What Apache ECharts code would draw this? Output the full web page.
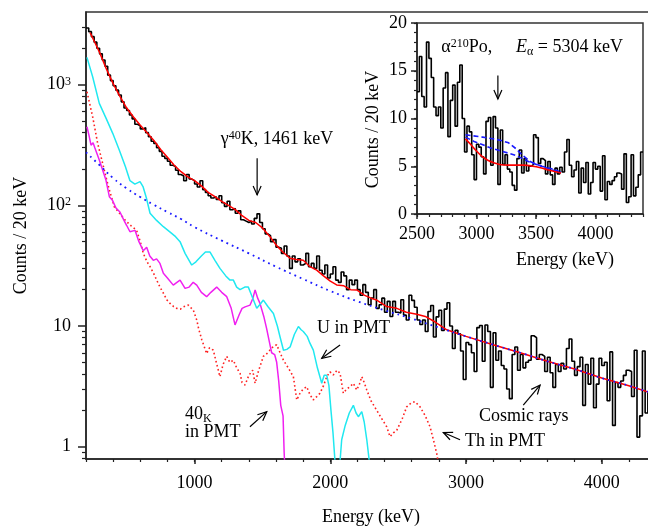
<!DOCTYPE html>
<html>
<head>
<meta charset="utf-8">
<script src="https://cdn.jsdelivr.net/npm/echarts@6/dist/echarts.min.js"></script>
<style>
  html, body { margin: 0; padding: 0; background: #fff; }
  #chart { width: 648px; height: 526px; }
</style>
</head>
<body>
<div id="chart"></div>
<script>
// measured spectrum, counts per 20 keV bin, bins start at 200 keV
var countsLow = [
  2950, 2750, 2500, 2250, 2000, 1800, 1600, 1420, 1200, 1080,
  980, 900, 820, 720, 640, 610, 560, 520, 470, 455,
  430, 440, 400, 370, 340, 325, 300, 280, 255, 245,
  232, 215, 210, 195, 180, 175, 160, 180, 165, 160,
  150, 142, 160, 135, 128, 120, 115, 118, 112, 120,
  105, 98, 108, 92, 94, 86, 90, 76, 74, 72,
  74, 70, 78, 85, 72, 64, 58, 56, 50, 52,
  45, 44, 40, 46, 38, 30, 38, 34, 36, 32,
  33, 40, 31, 33, 30, 38, 29, 27, 32, 25,
  27, 31, 24, 23, 28, 26, 20, 24, 22, 24,
  20, 18, 22, 19, 15, 17, 20, 14, 15, 17,
  13, 16, 12, 16, 13
];
// bins from 2500 keV to 4400 keV (also shown in the inset)
var countsHigh = [
  12.8, 16.5, 12.3, 11.2, 18.0, 16.3, 14.3, 11.2, 10.3, 11.2,
  9.0, 13.2, 14.8, 8.1, 11.9, 13.5, 9.2, 13.8, 15.6, 10.0,
  6.5, 9.2, 8.6, 6.2, 3.6, 7.3, 7.0, 6.0, 4.2, 9.7,
  10.1, 5.1, 10.2, 9.0, 3.1, 8.8, 5.2, 6.2, 4.7, 4.4,
  3.0, 2.5, 5.8, 6.7, 4.3, 5.8, 4.5, 5.0, 5.2, 8.3,
  8.0, 5.3, 5.8, 5.6, 4.2, 5.5, 4.1, 3.1, 4.8, 4.2,
  4.9, 4.4, 6.5, 7.8, 5.1, 3.9, 4.6, 5.5, 2.2, 4.8,
  3.3, 5.4, 2.1, 3.3, 5.4, 4.7, 5.0, 2.4, 6.1, 1.5,
  3.4, 3.1, 3.5, 3.9, 4.3, 4.2, 2.6, 6.3, 1.2, 1.8,
  6.2, 1.9, 2.8, 4.1, 6.5
];
var binWidth = 20;
var lowStart = 200;
var highStart = 2500;
var eMax = 4400;

// simulated components
var totalE = [230, 260, 300, 350, 400, 450, 500, 550, 600, 650, 700, 750, 800, 850, 900, 950,
  1000, 1050, 1100, 1150, 1200, 1250, 1300, 1350, 1400, 1450, 1500, 1556, 1600, 1650, 1703,
  1750, 1801, 1850, 1900, 1950, 2000, 2047, 2100, 2150, 2195, 2250, 2300, 2342, 2416, 2490,
  2560, 2637, 2700, 2760, 2858, 3000, 3200, 3400, 3600, 3800, 4000, 4200, 4400];
var totalCounts = [2700, 2300, 1850, 1350, 1020, 800, 640, 540, 460, 400, 345, 290, 250, 215, 190, 172,
  160, 145, 128, 118, 108, 100, 92, 82, 75, 72, 65, 55, 47, 41, 36.4,
  35.5, 35, 31, 29, 26, 23.5, 21.9, 21.5, 20, 19.9, 18, 17, 16.4, 14.5, 14,
  13, 12.5, 12, 11, 9.3, 8.2, 7.0, 6.0, 5.1, 4.4, 3.7, 3.2, 2.7];

var cosmicE = [200, 300, 400, 500, 600, 700, 800, 900, 1000, 1200, 1400, 1600, 1800, 2000,
  2200, 2400, 2600, 2800, 3000, 3200, 3400, 3600, 3800, 4000, 4200, 4400];
var cosmicCounts = [275, 215, 168, 138, 117, 101, 88, 77, 66, 51, 40, 31, 24.5, 19.5,
  16, 13.5, 11.5, 9.7, 8.2, 7.0, 6.0, 5.1, 4.4, 3.7, 3.2, 2.7];

var uE = [207, 249, 298, 350, 397, 445, 490, 524, 560, 598, 620, 645, 672, 720, 770, 820, 860, 893,
  930, 979, 1010, 1050, 1080, 1114, 1150, 1187, 1230, 1261, 1286, 1310, 1335, 1370, 1396, 1420,
  1458, 1480, 1507, 1540, 1581, 1610, 1630, 1655, 1680, 1704, 1735, 1765, 1785, 1801, 1830,
  1850, 1875, 1905, 1937, 1955, 1974, 1990, 2005, 2020, 2035, 2050, 2065, 2084, 2110, 2140,
  2170, 2190, 2207, 2232, 2250, 2269, 2285, 2300];
var uCounts = [1683, 1162, 700, 520, 395, 287, 210, 160, 150, 157, 143, 115, 86, 75, 66.5, 60, 55, 50,
  40, 32, 34, 38, 41, 41, 35, 30, 26, 24, 24, 21, 20, 21, 21, 18,
  14, 15, 16.4, 14.5, 12.7, 10, 8.1, 6.3, 6.4, 6.7, 8.5, 9.9, 9.3, 9.0, 8.2,
  7.2, 6.3, 4.5, 3.35, 3.9, 3.9, 3.2, 2.0, 1.3, 0.75, 0.5, 0.6, 1.14, 1.5, 1.9,
  2.2, 1.9, 1.77, 1.95, 1.6, 1.14, 0.8, 0.5];

var kE = [207, 222, 237, 252, 265, 298, 320, 347, 372, 395, 421, 450, 480, 500, 524, 561, 590, 622,
  647, 670, 696, 720, 745, 770, 800, 843, 870, 893, 930, 960, 990, 1016, 1050, 1089, 1120, 1163,
  1200, 1237, 1270, 1298, 1330, 1350, 1372, 1409, 1430, 1446, 1465, 1482, 1510, 1531, 1550,
  1568, 1590, 1605, 1620, 1635, 1645, 1652, 1660, 1670];
var kCounts = [448, 380, 315, 330, 300, 237, 200, 162, 118, 110, 95, 88, 75, 68, 60.4, 62, 50, 42,
  45, 38, 35, 36, 33, 27.3, 25, 21.8, 23, 24, 20.5, 21, 23, 21.8, 19, 17.5, 19, 21,
  19, 17.5, 14, 10.2, 12.5, 14, 14.4, 14.9, 17, 19.9, 17, 15.4, 12, 9.5, 7.5,
  6, 5.8, 5, 3.5, 2.2, 2.2, 1.8, 0.9, 0.5];

var thE = [207, 249, 286, 323, 347, 372, 409, 450, 490, 530, 573, 600, 622, 650, 672, 700, 721, 745,
  770, 795, 819, 845, 868, 895, 917, 954, 991, 1016, 1030, 1053, 1070, 1089, 1110, 1138, 1160,
  1187, 1210, 1237, 1260, 1286, 1310, 1335, 1350, 1372, 1400, 1428, 1446, 1470, 1507, 1540,
  1570, 1605, 1630, 1655, 1690, 1728, 1753, 1777, 1800, 1826, 1850, 1875, 1900, 1924, 1950,
  1974, 1998, 2022, 2050, 2072, 2096, 2120, 2145, 2170, 2195, 2215, 2232, 2250, 2269, 2300,
  2342, 2380, 2416, 2440, 2465, 2490, 2530, 2563, 2595, 2624, 2661, 2700, 2735, 2760, 2784, 2809];
var thCounts = [873, 542, 326, 222, 172, 134, 97, 85, 75, 68, 62, 50, 40, 34, 31, 27, 24, 21,
  18.7, 16.5, 15.4, 14.5, 14, 13.8, 14.4, 14.9, 13.5, 11.2, 9.5, 7.7, 6.8, 5.9, 6.6, 6.3, 5,
  3.8, 4.8, 5.6, 5.0, 5.2, 4.5, 4.06, 3.4, 3.24, 3.9, 4.3, 3.35, 4.2, 5.6, 6.0,
  6.6, 7.0, 6.0, 5.2, 4.5, 3.8, 2.44, 2.77, 3.0, 3.14, 2.7, 2.44, 2.6, 2.77, 3.2,
  3.8, 4.17, 3.93, 4.3, 4.06, 2.77, 3.0, 3.14, 3.35, 2.95, 3.3, 3.8, 3.4, 2.95, 2.4,
  2.0, 1.7, 1.46, 1.21, 1.3, 1.37, 1.7, 2.14, 2.3, 2.36, 2.14, 1.8, 1.46, 1.14, 0.88, 0.6];

// inset: 210Po alpha fits
var fitE = [2908, 2950, 3000, 3050, 3100, 3150, 3207, 3260, 3320, 3400, 3473, 3520, 3580, 3640, 3711];
var fitCounts = [7.87, 7.3, 6.6, 6.0, 5.6, 5.35, 5.16, 5.12, 5.12, 5.12, 5.0, 4.9, 4.7, 4.5, 4.3];
var dashAE = [2908, 3053, 3150, 3207, 3270, 3333, 3389, 3459, 3550, 3640, 3711];
var dashACounts = [8.29, 8.05, 7.85, 7.7, 7.45, 6.83, 6.13, 5.44, 5.0, 4.6, 4.35];
var dashBE = [2908, 2980, 3053, 3120, 3193, 3260, 3333, 3445, 3550, 3640, 3697];
var dashBCounts = [8.05, 7.6, 7.25, 6.9, 6.65, 6.4, 6.13, 5.44, 5.0, 4.7, 4.46];

// ticks
var xTicks = [1000, 2000, 3000, 4000];
var yTicks = [1, 10, 100, 1000];
var insetXTicks = [2500, 3000, 3500, 4000];
var insetYTicks = [0, 5, 10, 15, 20];

var FONT = "'Liberation Serif', 'Times New Roman', serif";
var L = function (v) { return Math.log10(v); };
var yMin = 0.79, yMax = 4000;

var histCounts = countsLow.concat(countsHigh);
function stepData(start, counts) {
  var d = counts.map(function (c, i) { return [start + binWidth * i, c]; });
  d.push([start + binWidth * counts.length, counts[counts.length - 1]]);
  return d;
}
function pairs(es, cs, f) {
  return es.map(function (e, i) { return [e, f ? f(cs[i]) : cs[i]]; });
}
var mainHist = stepData(lowStart, histCounts).map(function (p) { return [p[0], L(p[1])]; });
var insetHist = stepData(highStart, countsHigh);

var xMinor = [];
for (var e = lowStart; e <= eMax; e += 200) xMinor.push(e);
var yMinor = [];
[0.1, 1, 10, 100, 1000].forEach(function (dec) {
  for (var k = 2; k <= 9; k++) {
    var v = k * dec;
    if (v > yMin && v < yMax) yMinor.push(L(v));
  }
});
var insetXMinor = [];
for (var e2 = highStart; e2 <= eMax; e2 += 100) insetXMinor.push(e2);
var insetYMinor = [];
for (var k2 = 0; k2 <= 20; k2++) insetYMinor.push(k2);

var axisColor = '#222';
var labelStyle = { color: '#000', fontSize: 18, fontFamily: FONT };
var nameStyle = { color: '#000', fontSize: 18, fontFamily: FONT };
var plain = function (v) { return String(v); };

var mainRect = { left: 86, top: 12, right: -8, bottom: 67, outerBoundsMode: 'none' };
var insetRect = { left: 417, top: 23, right: 5, bottom: 312, outerBoundsMode: 'none' };

// minor tick axes live in their own invisible grids laid over the real ones
function minorAxis(gridIndex, pos, min, max, ticks, len) {
  return {
    gridIndex: gridIndex, type: 'value', position: pos, min: min, max: max,
    axisLine: { show: false, onZero: false },
    axisTick: { show: true, customValues: ticks, length: len, lineStyle: { color: axisColor, width: 1.2 } },
    axisLabel: { show: false },
    splitLine: { show: false }
  };
}

var chart = echarts.init(document.getElementById('chart'), null, { renderer: 'canvas' });
var option = {
  animation: false,
  backgroundColor: '#fff',
  grid: [
    Object.assign({ show: true, borderColor: '#333', borderWidth: 1.5 }, mainRect),
    Object.assign({ show: true, borderColor: '#333', borderWidth: 1.5, backgroundColor: '#fff' }, insetRect),
    Object.assign({ show: false }, mainRect),
    Object.assign({ show: false }, insetRect)
  ],
  xAxis: [
    {
      gridIndex: 0, type: 'value', position: 'bottom', min: lowStart, max: eMax,
      axisLine: { onZero: false, lineStyle: { color: axisColor, width: 1.5 } },
      axisTick: { customValues: xTicks, length: 5, lineStyle: { color: axisColor, width: 1.5 } },
      axisLabel: Object.assign({ customValues: xTicks, margin: 15, formatter: plain }, labelStyle),
      splitLine: { show: false },
      name: 'Energy (keV)', nameLocation: 'middle', nameGap: 49, nameTextStyle: nameStyle
    },
    {
      gridIndex: 1, type: 'value', position: 'bottom', min: highStart, max: eMax,
      axisLine: { onZero: false, lineStyle: { color: axisColor, width: 1.5 } },
      axisTick: { customValues: insetXTicks, length: 5, lineStyle: { color: axisColor, width: 1.5 } },
      axisLabel: Object.assign({ customValues: insetXTicks, margin: 11, formatter: plain }, labelStyle),
      splitLine: { show: false },
      name: 'Energy (keV)', nameLocation: 'middle', nameGap: 37,
      nameTextStyle: Object.assign({ padding: [0, 0, 0, 70] }, nameStyle)
    },
    minorAxis(2, 'bottom', lowStart, eMax, xMinor, 3),
    minorAxis(3, 'bottom', highStart, eMax, insetXMinor, 3)
  ],
  yAxis: [
    {
      gridIndex: 0, type: 'value', position: 'left', min: L(yMin), max: L(yMax),
      axisLine: { onZero: false, lineStyle: { color: axisColor, width: 1.5 } },
      axisTick: { customValues: yTicks.map(L), length: 8, lineStyle: { color: axisColor, width: 1.5 } },
      axisLabel: Object.assign({
        customValues: yTicks.map(L), margin: 15,
        formatter: function (v) {
          var n = Math.round(v);
          if (n === 0) return '1';
          if (n === 1) return '10';
          return '10{sup|' + n + '}';
        },
        rich: { sup: { fontSize: 12, fontFamily: FONT, color: '#000', verticalAlign: 'top' } }
      }, labelStyle),
      splitLine: { show: false },
      name: 'Counts / 20 keV', nameLocation: 'middle', nameGap: 56, nameTextStyle: nameStyle
    },
    {
      gridIndex: 1, type: 'value', position: 'left', min: 0, max: 20,
      axisLine: { onZero: false, lineStyle: { color: axisColor, width: 1.5 } },
      axisTick: { customValues: insetYTicks, length: 6, lineStyle: { color: axisColor, width: 1.5 } },
      axisLabel: Object.assign({ customValues: insetYTicks, margin: 10, formatter: plain }, labelStyle),
      splitLine: { show: false },
      name: 'Counts / 20 keV', nameLocation: 'middle', nameGap: 35,
      nameTextStyle: Object.assign({ padding: [0, 22, 0, 0] }, nameStyle)
    },
    minorAxis(2, 'left', L(yMin), L(yMax), yMinor, 4),
    minorAxis(3, 'left', 0, 20, insetYMinor, 3)
  ],
  series: [
    {
      name: 'Th in PMT', type: 'line', xAxisIndex: 0, yAxisIndex: 0, symbol: 'none',
      data: pairs(thE, thCounts, L),
      lineStyle: { color: '#ff2020', width: 1.6, type: [1.6, 2.6] }
    },
    {
      name: '40K in PMT', type: 'line', xAxisIndex: 0, yAxisIndex: 0, symbol: 'none',
      data: pairs(kE, kCounts, L),
      lineStyle: { color: '#f020f0', width: 1.5 }
    },
    {
      name: 'U in PMT', type: 'line', xAxisIndex: 0, yAxisIndex: 0, symbol: 'none',
      data: pairs(uE, uCounts, L),
      lineStyle: { color: '#20e8f0', width: 1.5 }
    },
    {
      name: 'Data', type: 'line', xAxisIndex: 0, yAxisIndex: 0, symbol: 'none', step: 'end',
      data: mainHist,
      lineStyle: { color: '#000', width: 1.6 }
    },
    {
      name: 'Total', type: 'line', xAxisIndex: 0, yAxisIndex: 0, symbol: 'none',
      data: pairs(totalE, totalCounts, L),
      lineStyle: { color: '#ff0000', width: 1.5 }
    },
    {
      name: 'Cosmic rays', type: 'line', xAxisIndex: 0, yAxisIndex: 0, symbol: 'none', smooth: true,
      data: pairs(cosmicE, cosmicCounts, L),
      lineStyle: { color: '#1a1aff', width: 1.8, type: [1.8, 4] }
    },
    {
      name: 'Inset data', type: 'line', xAxisIndex: 1, yAxisIndex: 1, symbol: 'none', step: 'end',
      data: insetHist,
      lineStyle: { color: '#000', width: 1.6 }
    },
    {
      name: 'Fit A', type: 'line', xAxisIndex: 1, yAxisIndex: 1, symbol: 'none',
      data: pairs(dashAE, dashACounts),
      lineStyle: { color: '#1a1aff', width: 1.6, type: [5, 3] }
    },
    {
      name: 'Fit B', type: 'line', xAxisIndex: 1, yAxisIndex: 1, symbol: 'none',
      data: pairs(dashBE, dashBCounts),
      lineStyle: { color: '#1a1aff', width: 1.6, type: [5, 3] }
    },
    {
      name: 'Fit', type: 'line', xAxisIndex: 1, yAxisIndex: 1, symbol: 'none', smooth: true,
      data: pairs(fitE, fitCounts),
      lineStyle: { color: '#ff0000', width: 1.6 }
    }
  ]
};
chart.setOption(option);

// annotations placed in data coordinates
function pm(e, c) { return chart.convertToPixel({ xAxisIndex: 0, yAxisIndex: 0 }, [e, L(c)]); }
function pi(e, c) { return chart.convertToPixel({ xAxisIndex: 1, yAxisIndex: 1 }, [e, c]); }
function arrow(p0, p1) {
  var dx = p1[0] - p0[0], dy = p1[1] - p0[1];
  var len = Math.sqrt(dx * dx + dy * dy), ux = dx / len, uy = dy / len;
  var h = 9, w = 4;
  var a = [p1[0] - ux * h - uy * w, p1[1] - uy * h + ux * w];
  var b = [p1[0] - ux * h + uy * w, p1[1] - uy * h - ux * w];
  return [
    { type: 'line', z: 100, shape: { x1: p0[0], y1: p0[1], x2: p1[0], y2: p1[1] }, style: { stroke: '#000', lineWidth: 1.2 } },
    { type: 'polyline', z: 100, shape: { points: [a, p1, b] }, style: { stroke: '#000', lineWidth: 1.2, fill: null } }
  ];
}
var rich = {
  sup: { fontSize: 12, fontFamily: FONT, fill: '#000', verticalAlign: 'top' },
  sub: { fontSize: 12, fontFamily: FONT, fill: '#000', padding: [9, 0, 0, 0], verticalAlign: 'top' },
  it: { fontSize: 18, fontFamily: FONT, fill: '#000', fontStyle: 'italic' }
};
function label(p, text, align) {
  return {
    type: 'text', z: 100, x: p[0], y: p[1],
    style: { text: text, fontSize: 18, fontFamily: FONT, fill: '#000', align: align || 'left', verticalAlign: 'middle', rich: rich }
  };
}
var g = [];
g.push(label(pm(1607, 354), '\u03b3{sup|40}K, 1461 keV', 'center'));
g = g.concat(arrow(pm(1461, 245), pm(1461, 122)));
g.push(label(pm(1902, 9.6), 'U in PMT'));
g = g.concat(arrow(pm(2072, 6.96), pm(1937, 5.4)));
g.push(label(pm(930, 1.87), '40{sub|K}'));
g.push(label(pm(930, 1.31), 'in PMT'));
g = g.concat(arrow(pm(1408, 1.46), pm(1532, 1.95)));
g.push(label(pm(3096, 1.77), 'Cosmic rays'));
g = g.concat(arrow(pm(3422, 2.21), pm(3546, 3.24)));
g.push(label(pm(2993, 1.1), 'Th in PMT'));
g = g.concat(arrow(pm(2956, 1.14), pm(2833, 1.31)));
g.push(label(pi(2704, 17.46), '\u03b1{sup|210}Po,'));
g.push(label(pi(3333, 17.46), '{it|E}{sub|\u03b1} = 5304 keV'));
g = g.concat(arrow(pi(3180, 14.5), pi(3180, 12.05)));
chart.setOption({ graphic: g });
</script>
</body>
</html>
